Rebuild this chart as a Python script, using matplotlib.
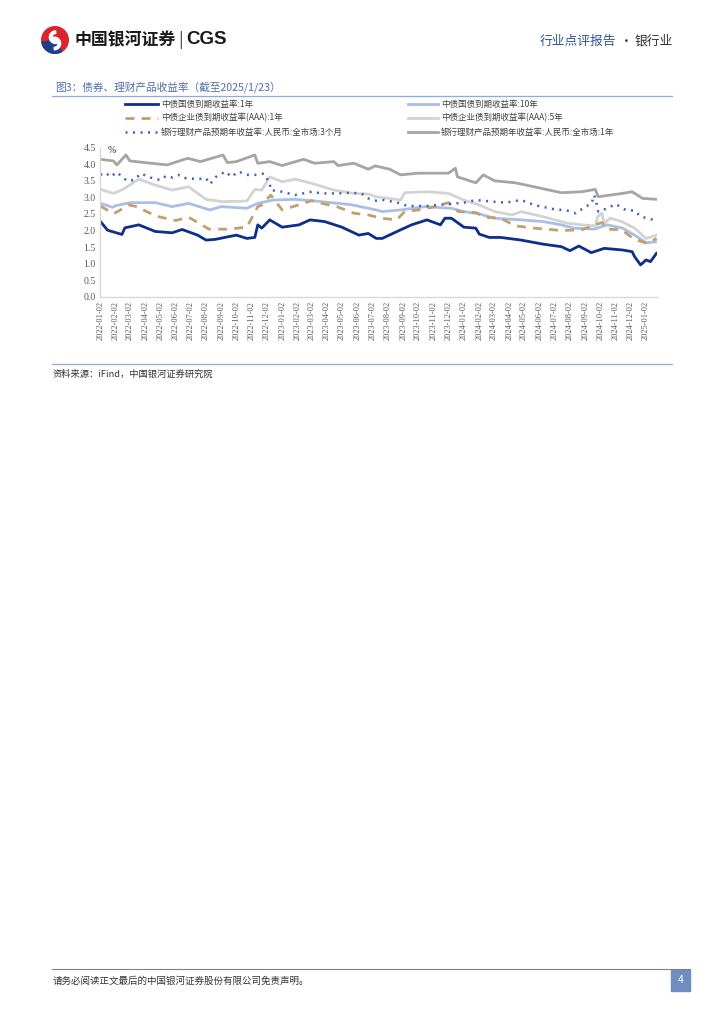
import numpy as np
import pandas as pd
import matplotlib
matplotlib.use('Agg')
import matplotlib.pyplot as plt
from matplotlib.patches import Rectangle, Circle, Wedge

plt.rcParams['font.family'] = ['Noto Sans CJK SC', 'DejaVu Sans']

# ---- data ----
gov1y_dates = ['2022-01-02', '2022-01-16', '2022-02-14', '2022-02-20', '2022-03-20', '2022-04-22',
               '2022-05-26', '2022-06-15', '2022-07-16', '2022-08-02', '2022-08-20', '2022-10-02',
               '2022-10-23', '2022-11-08', '2022-11-14', '2022-11-22', '2022-12-08', '2023-01-02',
               '2023-02-05', '2023-02-27', '2023-03-28', '2023-05-02', '2023-06-05', '2023-06-24',
               '2023-07-10', '2023-07-22', '2023-08-28', '2023-09-19', '2023-10-20', '2023-11-16',
               '2023-11-25', '2023-12-08', '2024-01-02', '2024-01-26', '2024-02-02', '2024-02-22',
               '2024-03-16', '2024-04-26', '2024-06-08', '2024-07-16', '2024-08-02', '2024-08-20',
               '2024-09-14', '2024-10-10', '2024-11-16', '2024-12-05', '2024-12-10', '2024-12-22',
               '2025-01-02', '2025-01-11', '2025-01-23']
gov1y = [2.27, 2.01, 1.88, 2.08, 2.17, 1.97,
         1.93, 2.03, 1.86, 1.71, 1.73, 1.86,
         1.76, 1.79, 2.17, 2.07, 2.32, 2.10,
         2.17, 2.32, 2.27, 2.10, 1.86, 1.91,
         1.76, 1.76, 2.02, 2.17, 2.32, 2.17,
         2.37, 2.37, 2.10, 2.07, 1.89, 1.79,
         1.79, 1.71, 1.59, 1.51, 1.39, 1.53,
         1.33, 1.46, 1.41, 1.36, 1.21, 0.96,
         1.11, 1.06, 1.31]

gov10y_dates = ['2022-01-02', '2022-01-26', '2022-02-02', '2022-03-02', '2022-04-22', '2022-05-26',
                '2022-06-28', '2022-08-10', '2022-09-02', '2022-10-23', '2022-11-14', '2022-12-16',
                '2023-01-28', '2023-03-02', '2023-04-10', '2023-05-20', '2023-07-10', '2023-07-22',
                '2023-08-28', '2023-10-16', '2023-12-08', '2024-01-02', '2024-02-02', '2024-03-04',
                '2024-04-26', '2024-06-08', '2024-07-16', '2024-08-10', '2024-09-20', '2024-10-16',
                '2024-11-16', '2024-12-10', '2025-01-02', '2025-01-23']
gov10y = [2.82, 2.70, 2.75, 2.84, 2.84, 2.72,
          2.82, 2.62, 2.72, 2.67, 2.82, 2.92,
          2.94, 2.90, 2.84, 2.78, 2.62, 2.57,
          2.62, 2.72, 2.67, 2.57, 2.50, 2.37,
          2.32, 2.27, 2.17, 2.07, 2.04, 2.17,
          2.07, 1.86, 1.63, 1.66]

corp1y_dates = ['2022-01-02', '2022-01-28', '2022-02-28', '2022-03-16', '2022-04-22', '2022-06-02',
                '2022-06-28', '2022-08-08', '2022-09-16', '2022-10-23', '2022-11-14', '2022-11-22',
                '2022-12-10', '2023-01-02', '2023-01-28', '2023-03-02', '2023-03-28', '2023-04-22',
                '2023-05-26', '2023-06-24', '2023-07-20', '2023-08-20', '2023-09-05', '2023-10-02',
                '2023-11-05', '2023-12-02', '2023-12-22', '2024-01-26', '2024-02-14', '2024-03-16',
                '2024-04-14', '2024-05-22', '2024-07-16', '2024-08-26', '2024-10-05', '2024-10-16',
                '2024-11-14', '2024-12-10', '2025-01-05', '2025-01-23']
corp1y = [2.74, 2.50, 2.77, 2.72, 2.44, 2.30,
          2.40, 2.04, 2.04, 2.10, 2.72, 2.77,
          3.07, 2.62, 2.74, 2.90, 2.80, 2.72,
          2.52, 2.47, 2.37, 2.32, 2.57, 2.62,
          2.72, 2.84, 2.57, 2.54, 2.40, 2.37,
          2.14, 2.07, 2.00, 2.02, 2.24, 2.04,
          2.02, 1.73, 1.61, 1.76]

corp5y_dates = ['2022-01-02', '2022-01-28', '2022-02-16', '2022-03-20', '2022-04-22', '2022-05-26',
                '2022-06-28', '2022-08-02', '2022-09-05', '2022-10-23', '2022-11-08', '2022-11-22',
                '2022-12-08', '2023-01-02', '2023-01-28', '2023-03-08', '2023-04-16', '2023-05-26',
                '2023-06-24', '2023-07-10', '2023-08-28', '2023-09-05', '2023-10-20', '2023-12-02',
                '2024-01-02', '2024-02-02', '2024-03-04', '2024-04-08', '2024-04-26', '2024-06-08',
                '2024-07-28', '2024-08-26', '2024-09-22', '2024-09-27', '2024-10-05', '2024-10-10',
                '2024-10-22', '2024-11-14', '2024-12-10', '2025-01-02', '2025-01-23']
corp5y = [3.24, 3.12, 3.24, 3.55, 3.37, 3.22,
          3.32, 2.94, 2.87, 2.89, 3.24, 3.22,
          3.62, 3.47, 3.55, 3.40, 3.22, 3.12,
          3.10, 3.02, 2.92, 3.14, 3.17, 3.12,
          2.92, 2.77, 2.57, 2.47, 2.57, 2.42,
          2.22, 2.17, 2.14, 2.42, 2.52, 2.22,
          2.37, 2.27, 2.07, 1.76, 1.86]

wm3m_dates = ['2022-01-02', '2022-01-12', '2022-01-22', '2022-02-04', '2022-02-24', '2022-03-10',
              '2022-03-24', '2022-04-12', '2022-05-02', '2022-05-14', '2022-05-26', '2022-06-10',
              '2022-06-22', '2022-07-16', '2022-08-02', '2022-08-10', '2022-08-22', '2022-09-10',
              '2022-09-22', '2022-10-06', '2022-10-23', '2022-11-14', '2022-11-26', '2022-12-08',
              '2022-12-10', '2023-01-02', '2023-01-28', '2023-03-02', '2023-03-22', '2023-04-26',
              '2023-05-20', '2023-06-10', '2023-06-24', '2023-07-10', '2023-07-26', '2023-08-28',
              '2023-09-10', '2023-10-20', '2023-12-02', '2024-01-02', '2024-01-26', '2024-03-01',
              '2024-03-26', '2024-04-26', '2024-05-22', '2024-07-02', '2024-07-28', '2024-08-14',
              '2024-09-02', '2024-09-14', '2024-09-20', '2024-09-24', '2024-09-28', '2024-10-16',
              '2024-11-02', '2024-11-22', '2024-12-10', '2024-12-22', '2025-01-12', '2025-01-23']
wm3m = [3.68, 3.75, 3.62, 3.76, 3.50, 3.52,
        3.72, 3.60, 3.52, 3.65, 3.60, 3.68,
        3.58, 3.55, 3.58, 3.40, 3.62, 3.78,
        3.62, 3.78, 3.68, 3.68, 3.72, 3.43,
        3.22, 3.17, 3.07, 3.17, 3.12, 3.12,
        3.14, 3.12, 2.97, 2.90, 2.92, 2.82,
        2.74, 2.74, 2.80, 2.84, 2.92, 2.87,
        2.84, 2.92, 2.77, 2.64, 2.60, 2.52,
        2.72, 2.80, 3.07, 2.85, 2.57, 2.67,
        2.80, 2.62, 2.60, 2.42, 2.34, 2.30]

wm1y_dates = ['2022-01-02', '2022-01-28', '2022-02-04', '2022-02-22', '2022-03-02', '2022-04-14',
              '2022-05-16', '2022-06-26', '2022-07-22', '2022-09-05', '2022-09-14', '2022-10-02',
              '2022-11-08', '2022-11-14', '2022-12-08', '2023-01-02', '2023-02-14', '2023-03-08',
              '2023-04-16', '2023-04-24', '2023-05-26', '2023-06-24', '2023-07-08', '2023-08-06',
              '2023-08-28', '2023-10-02', '2023-12-02', '2023-12-16', '2023-12-20', '2024-01-26',
              '2024-02-10', '2024-03-04', '2024-04-14', '2024-05-22', '2024-07-16', '2024-08-26',
              '2024-09-22', '2024-09-28', '2024-11-16', '2024-12-05', '2024-12-26', '2025-01-23']
wm1y = [4.15, 4.10, 3.98, 4.28, 4.10, 4.03,
        3.98, 4.18, 4.08, 4.28, 4.05, 4.08,
        4.28, 4.03, 4.08, 3.96, 4.15, 4.03,
        4.08, 3.96, 4.03, 3.85, 3.95, 3.85,
        3.68, 3.73, 3.73, 3.88, 3.62, 3.44,
        3.68, 3.50, 3.44, 3.32, 3.14, 3.17,
        3.24, 3.02, 3.12, 3.17, 2.97, 2.94]

labels = ['中债国债到期收益率:1年', '中债国债到期收益率:10年',
          '中债企业债到期收益率(AAA):1年', '中债企业债到期收益率(AAA):5年',
          '银行理财产品预期年收益率:人民币:全市场:3个月', '银行理财产品预期年收益率:人民币:全市场:1年']
tick_dates = pd.date_range('2022-01-01', '2025-01-01', freq='MS') + pd.Timedelta(days=1)
yticks = np.arange(0, 4.51, 0.5)

# ---- figure ----
fig = plt.figure(figsize=(7.24, 10.24), dpi=100)
W, H = 724, 1024


def fx(px):
    return px / W


def fy(py):
    return 1 - py / H


# header
ax_logo = fig.add_axes([fx(41), fy(54), fx(28), 28 / H])
ax_logo.set_xlim(-1, 1)
ax_logo.set_ylim(-1, 1)
ax_logo.set_aspect('equal')
ax_logo.axis('off')
ax_logo.add_patch(Circle((0, 0), 0.95, color='#d9262e'))
ax_logo.add_patch(Wedge((0, 0), 0.95, 190, 300, color='#1d3f8f'))
ax_logo.add_patch(Wedge((0.05, 0.2), 0.45, 90, 300, width=0.18, color='white'))
ax_logo.add_patch(Wedge((-0.05, -0.25), 0.45, 270, 120, width=0.18, color='white'))
fig.text(fx(75), fy(40), '中国银河证券', fontsize=12.2, fontweight='bold', color='#1a1a1a',
         va='center', ha='left')
fig.text(fx(181), fy(40), '|', fontsize=12, color='#444444', va='center', ha='center')
fig.text(fx(186), fy(40), 'CGS', fontsize=13.5, fontweight='bold', color='#1a1a1a',
         family='Liberation Sans', va='center', ha='left')
fig.text(fx(540), fy(41), '行业点评报告', fontsize=9.2, color='#2f5597', va='center', ha='left')
fig.text(fx(626), fy(41), '·', fontsize=9.2, color='#333333', va='center', ha='center')
fig.text(fx(635), fy(41), '银行业', fontsize=9.2, color='#333333', va='center', ha='left')

# title and rules
fig.text(fx(55), fy(87), '图3：债券、理财产品收益率（截至2025/1/23）', fontsize=7.7,
         color='#4f6fa6', va='center', ha='left')
fig.add_artist(plt.Line2D([fx(52), fx(672)], [fy(96), fy(96)], color='#8faadc', lw=0.9))
fig.add_artist(plt.Line2D([fx(52), fx(672)], [fy(364), fy(364)], color='#8faadc', lw=0.9))
fig.text(fx(53), fy(374), '资料来源：iFind，中国银河证券研究院', fontsize=6.7, color='#333333',
         style='italic', va='center', ha='left')

# footer
fig.add_artist(plt.Line2D([fx(52), fx(690)], [fy(969), fy(969)], color='#808080', lw=0.8))
fig.text(fx(53), fy(981), '请务必阅读正文最后的中国银河证券股份有限公司免责声明。', fontsize=6.85,
         color='#333333', va='center', ha='left')
fig.add_artist(Rectangle((fx(671), fy(991)), fx(19), 21 / H, color='#6f8ebf',
                         transform=fig.transFigure))
fig.text(fx(680.5), fy(980), '4', fontsize=7.5, color='white', va='center', ha='center')

# chart
ax = fig.add_axes([fx(100), fy(296.7), fx(557), (296.7 - 147.7) / H])
series = [
    (gov10y_dates, gov10y, dict(color='#a8bfe8', lw=2.0, ls='-')),
    (corp5y_dates, corp5y, dict(color='#d3d3d3', lw=2.0, ls='-')),
    (wm1y_dates, wm1y, dict(color='#a5a5a5', lw=2.0, ls='-')),
    (corp1y_dates, corp1y, dict(color='#c3a06b', lw=2.0, ls=(0, (3.2, 2.6)))),
    (wm3m_dates, wm3m, dict(color='#3b64b9', lw=1.8, ls=(0, (0.8, 2.2)))),
    (gov1y_dates, gov1y, dict(color='#0d2e8a', lw=2.0, ls='-')),
]
for d, v, st in series:
    ax.plot(pd.to_datetime(d), v, **st)

ax.set_xlim(pd.Timestamp('2022-01-01'), pd.Timestamp('2025-01-24'))
ax.set_ylim(0, 4.5)
ax.set_yticks(yticks)
ax.set_yticklabels([f'{t:.1f}' for t in yticks], family='Liberation Serif', fontsize=7,
                   color='#595959')
ax.set_xticks(tick_dates)
ax.set_xticklabels([t.strftime('%Y-%m-%d') for t in tick_dates], rotation=90,
                   family='Liberation Serif', fontsize=6, color='#595959')
ax.tick_params(length=0, pad=3)
for s in ['top', 'right']:
    ax.spines[s].set_visible(False)
for s in ['left', 'bottom']:
    ax.spines[s].set_color('#d9d9d9')
    ax.spines[s].set_linewidth(1.0)
ax.text(pd.Timestamp('2022-01-16'), 4.42, '%', fontsize=7, color='#333333',
        family='Liberation Serif', va='center', ha='left')

# legend (two columns, three rows)
leg_order = [
    (labels[0], dict(color='#0d2e8a', lw=2.0, ls='-'), 125, 104),
    (labels[2], dict(color='#c3a06b', lw=2.0, ls=(0, (3.2, 2.6))), 125, 118),
    (labels[4], dict(color='#3b64b9', lw=1.8, ls=(0, (0.8, 2.2))), 125, 132),
    (labels[1], dict(color='#a8bfe8', lw=2.0, ls='-'), 408, 104),
    (labels[3], dict(color='#d3d3d3', lw=2.0, ls='-'), 408, 118),
    (labels[5], dict(color='#a5a5a5', lw=2.0, ls='-'), 408, 132),
]
for lab, st, x0, y0 in leg_order:
    hlen = 33 if x0 < 300 else 30
    fig.add_artist(plt.Line2D([fx(x0), fx(x0 + hlen)], [fy(y0), fy(y0)], **st))
    fig.text(fx(x0 + hlen + 3), fy(y0), lab, fontsize=6.1, color='#404040', va='center',
             ha='left')

fig.savefig('out.png', dpi=100)
